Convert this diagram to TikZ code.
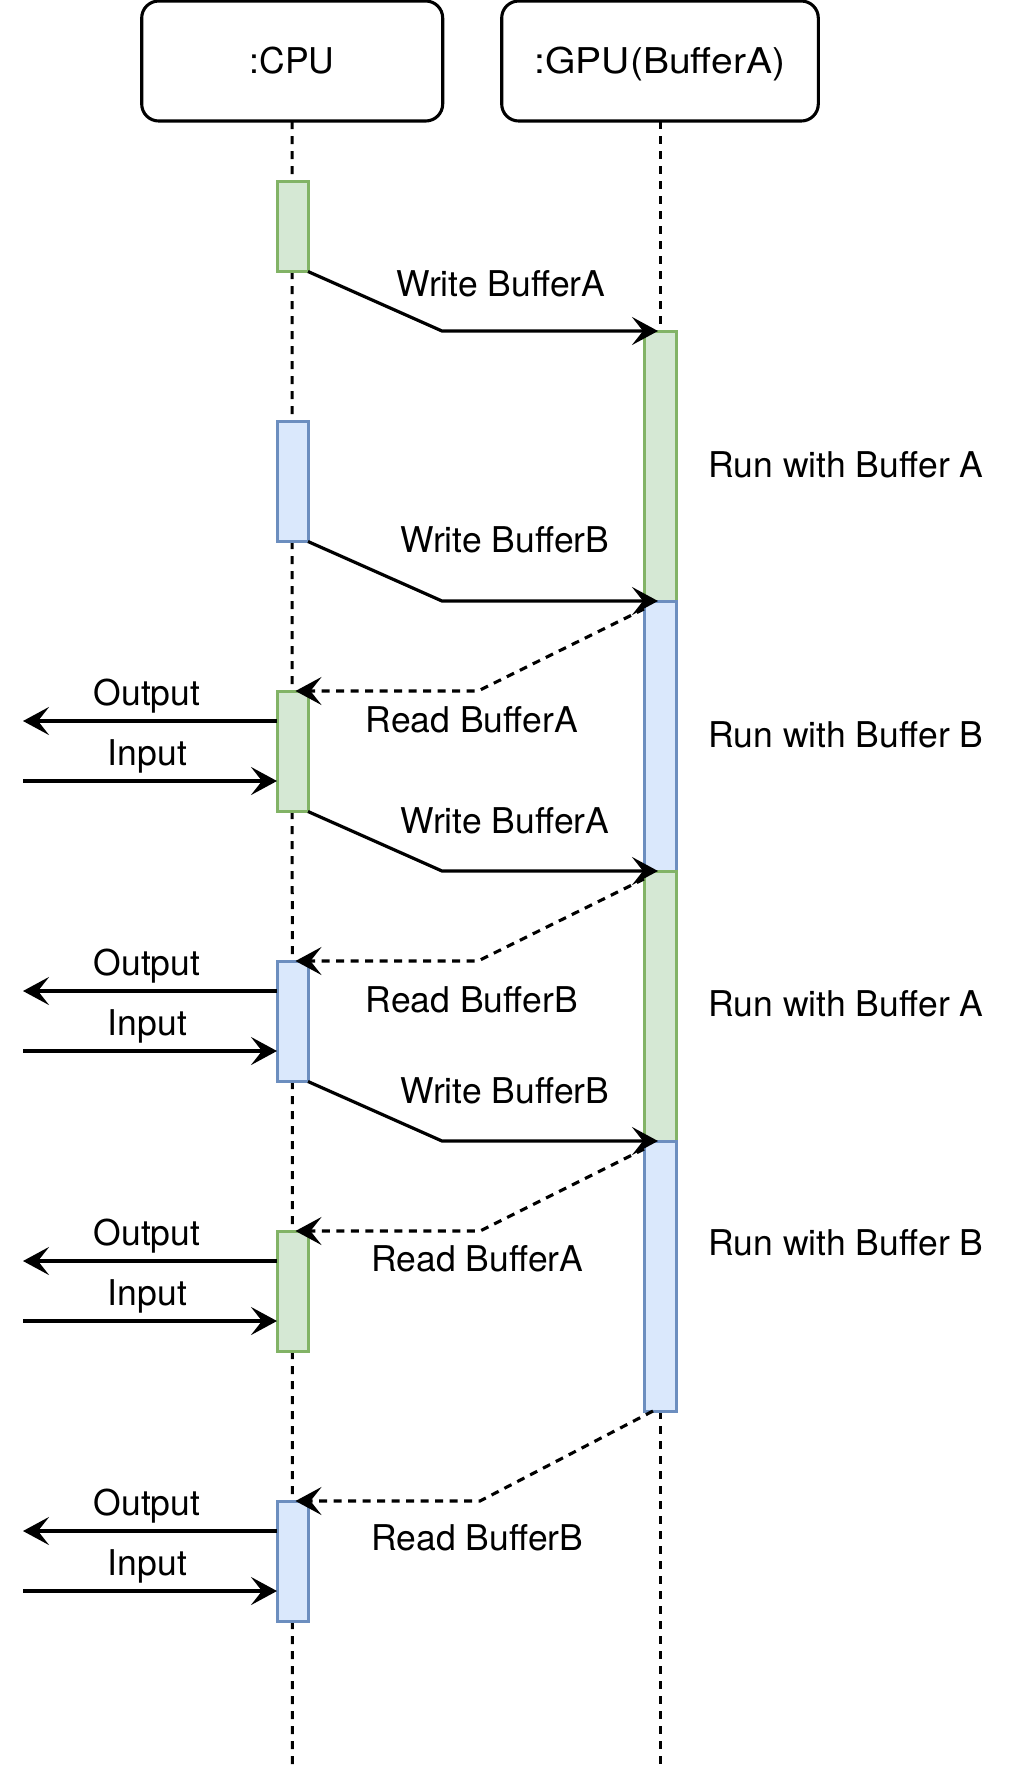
\documentclass[tikz,border=0pt]{standalone}
\usepackage{fontspec}
\setmainfont{TeX Gyre Heros}
\usetikzlibrary{arrows.meta,calc}
\definecolor{gfill}{HTML}{D5E8D4}
\definecolor{gline}{HTML}{82B366}
\definecolor{bfill}{HTML}{DAE8FC}
\definecolor{bline}{HTML}{6C8EBF}
\begin{document}
\begin{tikzpicture}[x=1pt,y=-1pt,
  hdr/.style={draw=black,line width=3.1pt,rounded corners=17pt,minimum height=120pt,inner sep=0pt,outer sep=0pt,
    font=\fontsize{35.5}{40}\selectfont,text height=25.5pt,text depth=0pt},
  life/.style={line width=3pt,dash pattern=on 8pt off 7pt},
  act/.style={line width=3pt,minimum width=31pt,inner sep=0pt,outer sep=0pt,anchor=north},
  actg/.style={act,draw=gline,fill=gfill},
  actb/.style={act,draw=bline,fill=bfill},
  tipstyle/.style={-{Stealth[length=26pt,width=28pt,inset=11pt]}},
  msg/.style={line width=3.2pt,tipstyle},
  rd/.style={line width=3.1pt,dash pattern=on 8pt off 6.5pt,tipstyle},
  lbl/.style={inner sep=0pt,font=\fontsize{35.5}{40}\selectfont,text height=25.5pt,text depth=0pt}]
\useasboundingbox (0,0) rectangle (1014,1773);

% headers
\node[hdr,minimum width=301pt] (cpu) at (292.2,61) {:CPU};
\node[hdr,minimum width=316.6pt] (gpu) at (660,61) {\scalebox{1.1}[1]{:GPU(BufferA)}};

% lifelines
\coordinate (cpuend) at (292.3,1768);
\coordinate (gpuend) at (660,1768);
\draw[life] (cpu.south) -- (cpuend);
\draw[life] (gpu.south) -- (gpuend);

% GPU activations
\node[actg,minimum width=32pt,minimum height=270pt] (g1) at (660,331) {};
\node[actb,minimum width=32pt,minimum height=270pt] (g2) at (660,601) {};
\node[actg,minimum width=32pt,minimum height=270pt] (g3) at (660,871) {};
\node[actb,minimum width=32pt,minimum height=270pt] (g4) at (660,1141) {};

% CPU activations
\node[actg,minimum height=90.5pt] (c1) at (292.5,181) {};
\node[actb,minimum height=120.5pt] (c2) at (292.5,421) {};
\node[actg,minimum height=120.5pt] (c3) at (292.5,691) {};
\node[actb,minimum height=120.5pt] (c4) at (292.5,961) {};
\node[actg,minimum height=120.5pt] (c5) at (292.5,1231) {};
\node[actb,minimum height=120.5pt] (c6) at (292.5,1501) {};

% write messages
\draw[msg] (c1.south east) -- ++(134,59.5) -- ($(g1.north)+(-2,0)$);
\draw[msg] (c2.south east) -- ++(134,59.5) -- ($(g2.north)+(-2,0)$);
\draw[msg] (c3.south east) -- ++(134,59.5) -- ($(g3.north)+(-2,0)$);
\draw[msg] (c4.south east) -- ++(134,59.5) -- ($(g4.north)+(-2,0)$);

% read messages
\draw[rd] ($(g2.north west)+(0,8)$) -- ($(c3.north)+(185.5,0)$) -- ($(c3.north)+(3,0)$);
\draw[rd] ($(g3.north west)+(0,8)$) -- ($(c4.north)+(185.5,0)$) -- ($(c4.north)+(3,0)$);
\draw[rd] ($(g4.north west)+(0,8)$) -- ($(c5.north)+(187.5,0)$) -- ($(c5.north)+(3,0)$);
\draw[rd] ($(g4.south)+(-7,0)$) -- ($(c6.north)+(187.5,0)$) -- ($(c6.north)+(3,0)$);

% output / input
\foreach \c in {c3,c4,c5,c6}{
  \coordinate (\c out) at ($(\c.north west)+(-254,30)$);
  \coordinate (\c in) at ($(\c.north west)+(-254,90)$);
  \draw[msg] ($(\c.north west)+(0,30)$) -- (\c out);
  \draw[msg] (\c in) -- ($(\c.north west)+(0,90)$);
  \node[lbl] (\c lo) at ($(\c.north west)+(-130,1.5)$) {Output};
  \node[lbl] (\c li) at ($(\c.north west)+(-129.5,61.5)$) {Input};
}

% labels
\node[lbl] (w1) at (501,284) {Write BufferA};
\node[lbl] (w2) at (505,540) {Write BufferB};
\node[lbl] (w3) at (505,821) {Write BufferA};
\node[lbl] (w4) at (505,1091) {Write BufferB};
\node[lbl] (r1) at (471.7,720) {Read BufferA};
\node[lbl] (r2) at (471.7,999.5) {Read BufferB};
\node[lbl] (r3) at (477.5,1258.5) {Read BufferA};
\node[lbl] (r4) at (477.5,1538) {Read BufferB};
\node[lbl] (u1) at (846,465) {Run with Buffer A};
\node[lbl] (u2) at (846,734.5) {Run with Buffer B};
\node[lbl] (u3) at (846,1004) {Run with Buffer A};
\node[lbl] (u4) at (846,1243) {Run with Buffer B};
\end{tikzpicture}
\end{document}
